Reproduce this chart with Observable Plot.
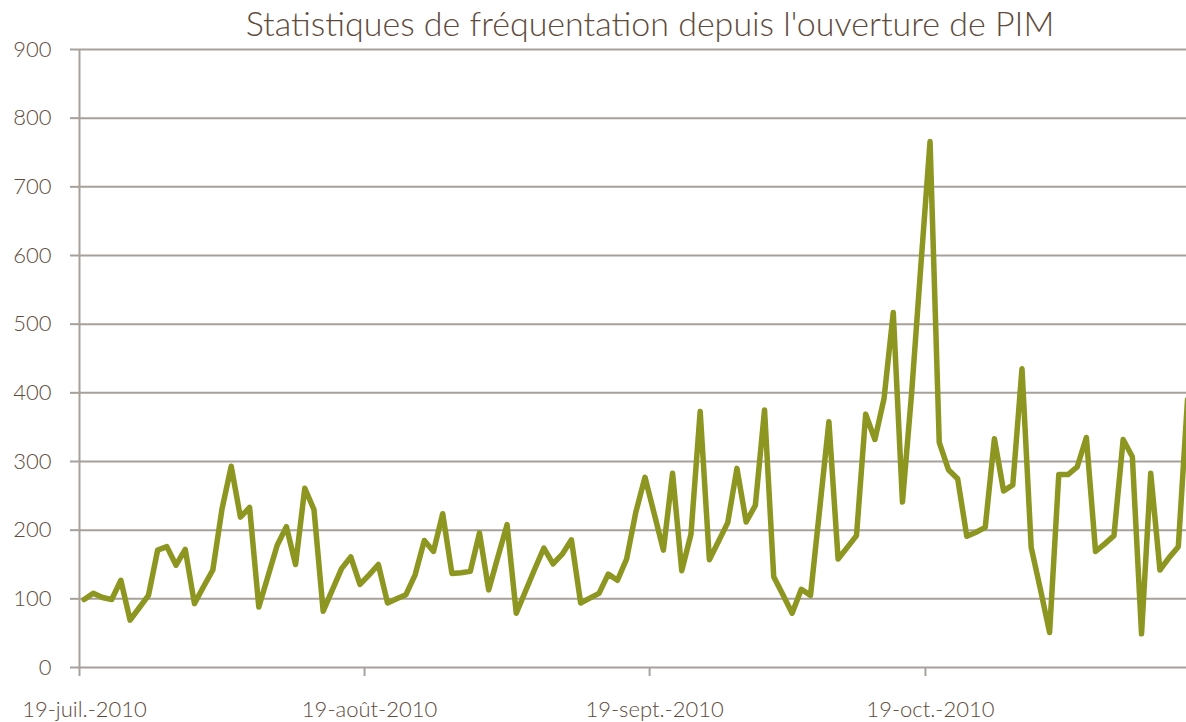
<!DOCTYPE html>
<html><head><meta charset="utf-8">
<script src="https://cdn.jsdelivr.net/npm/d3@7"></script>
<script src="https://cdn.jsdelivr.net/npm/@observablehq/plot@0.6"></script>
<style>
body{margin:0;background:#fff;overflow:hidden;font-family:Lato,"Open Sans",sans-serif;}
#wrap{position:relative;width:1186px;height:722px;}
#title{position:absolute;top:2px;left:650px;transform:translateX(-50%);white-space:nowrap;font-size:34px;color:#5e4b3c;font-weight:300;font-family:Lato,sans-serif;}
</style></head><body>
<div id="wrap"><div id="title">Statistiques de fréquentation depuis l'ouverture de PIM</div></div>
<script>
// Daily visitor counts, starting 19 July 2010
const startDay = "2010-07-19";
const visits = [
  99,108,102,99,127,69,87,105,171,176,
  149,172,93,118,142,231,293,219,233,88,
  133,178,205,150,261,230,82,113,144,161,
  121,135,150,94,100,106,135,185,169,224,
  137,138,140,196,113,161,208,79,111,143,
  174,151,165,186,94,101,108,136,127,158,
  226,277,224,171,283,141,194,373,157,184,
  211,290,212,236,375,132,106,79,114,105,
  231,358,158,175,192,369,332,392,517,241,
  400,585,766,328,288,275,191,197,204,333,
  257,266,435,175,114,51,281,281,292,335,
  169,180,192,332,307,49,283,142,160,176,
  390
];
const yTicks = [0,100,200,300,400,500,600,700,800,900];
const xTickDates = ["2010-07-19","2010-08-19","2010-09-19","2010-10-19"];
const xTickLabels = ["19-juil.-2010","19-août-2010","19-sept.-2010","19-oct.-2010"];

const DAY = 864e5;
const t0 = new Date(startDay + "T00:00:00Z");
// each day's point is plotted at the middle of its day (Excel "between tick marks")
const data = visits.map((v, i) => ({date: new Date(+t0 + i * DAY + DAY / 2), value: v}));
const ticks = xTickDates.map(s => new Date(s + "T00:00:00Z"));
const domainEnd = new Date(+t0 + 120.39 * DAY);

const gridColor = "#a8a09a";
const textColor = "#5e4b3c";

const chart = Plot.plot({
  width: 1186,
  height: 722,
  marginLeft: 79,
  marginRight: 0,
  marginTop: 49,
  marginBottom: 55,
  style: {fontSize: "22px", fontFamily: "Lato, sans-serif", fontWeight: 300, color: textColor, background: "transparent", overflow: "hidden"},
  x: {type: "utc", domain: [t0, domainEnd], axis: null},
  y: {domain: [0, 900], axis: null},
  marks: [
    Plot.ruleY(yTicks, {stroke: gridColor, strokeWidth: 2}),
    Plot.axisY(yTicks, {tickSize: 9, tickPadding: 19, stroke: gridColor, strokeWidth: 2, fill: textColor, label: null, fontSize: 22, fontWeight: 300}),
    Plot.ruleX([t0], {y1: 0, y2: 900, stroke: gridColor, strokeWidth: 2}),
    Plot.axisX(ticks, {tickSize: 9, tickFormat: () => "", stroke: gridColor, strokeWidth: 2, label: null}),
    Plot.text(ticks, {x: d => d, frameAnchor: "bottom", dy: 49, dx: 5, text: (d, i) => xTickLabels[i], fill: textColor, fontSize: 22, fontWeight: 300, textAnchor: "middle"}),
    Plot.line(data, {x: "date", y: "value", stroke: "#8c9620", strokeWidth: 5.5, strokeLinejoin: "round", strokeLinecap: "round"})
  ]
});
document.getElementById("wrap").prepend(chart);
</script>
</body></html>
